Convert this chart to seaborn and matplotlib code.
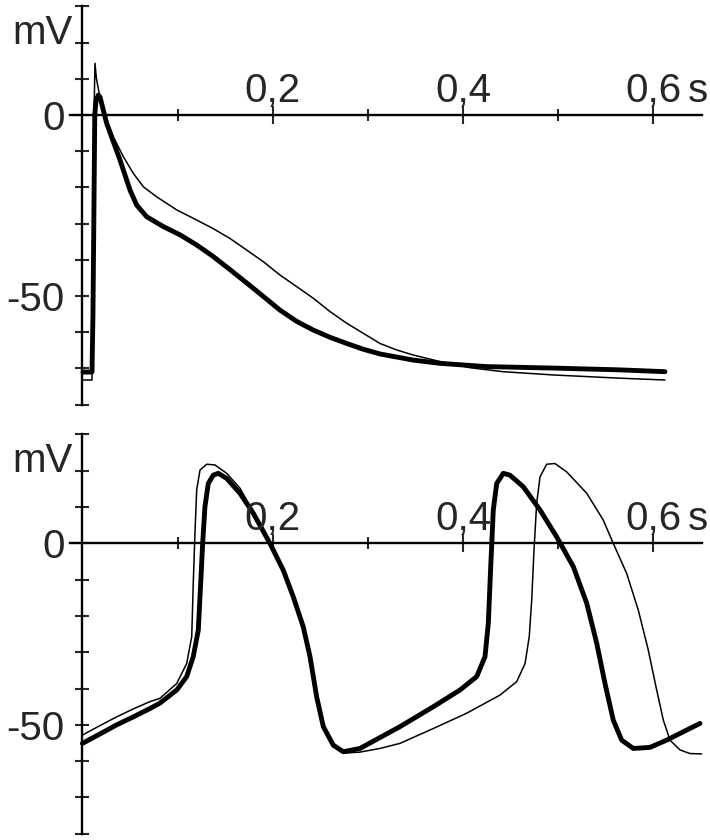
import numpy as np
import pandas as pd
import matplotlib
matplotlib.use("Agg")
import matplotlib.pyplot as plt
import seaborn as sns

# ---- data (time in s, voltage in mV) ----
# top panel, thick trace
top_thick_t = [0.0006, 0.0101, 0.0111, 0.0120, 0.0130, 0.0143, 0.0167, 0.0185, 0.0255, 0.0395,
               0.0500, 0.0571, 0.0676, 0.0850, 0.1026, 0.1201, 0.1376, 0.1551, 0.1727, 0.1901,
               0.2077, 0.2252, 0.2426, 0.2602, 0.2777, 0.2952, 0.3127, 0.3477, 0.3758, 0.4252,
               0.4945, 0.5650, 0.6122]
top_thick_v = [-71.0, -71.0, -55.0, -30.0, 0.0, 4.0, 5.5, 5.0, -2.3, -12.4,
               -20.7, -24.9, -28.1, -30.8, -33.1, -35.9, -39.1, -42.7, -46.4, -50.1,
               -53.9, -57.0, -59.4, -61.4, -63.1, -64.7, -66.0, -67.7, -68.6, -69.5,
               -69.9, -70.4, -70.9]
# top panel, thin trace
top_thin_t = [0.0006, 0.0101, 0.0111, 0.0122, 0.0132, 0.0148, 0.0203, 0.0325, 0.0430, 0.0535,
              0.0640, 0.0781, 0.0991, 0.1201, 0.1376, 0.1551, 0.1727, 0.1901, 0.2077, 0.2252,
              0.2426, 0.2602, 0.2777, 0.2952, 0.3127, 0.3303, 0.3477, 0.3758, 0.4073, 0.4420,
              0.4945, 0.5650, 0.6122]
top_thin_v = [-73.2, -73.2, -40.0, 0.0, 14.3, 10.0, 2.3, -6.0, -11.5, -16.1,
              -19.8, -22.6, -26.2, -29.0, -31.4, -34.1, -37.3, -40.5, -44.2, -47.4,
              -50.6, -54.3, -57.5, -60.3, -63.1, -64.9, -66.3, -68.1, -69.8, -70.9,
              -71.8, -72.7, -73.2]
# bottom panel, thick trace
bot_thick_t = [0.0, 0.0185, 0.0360, 0.0535, 0.0710, 0.0815, 0.0991, 0.1096, 0.1165, 0.1218,
               0.1243, 0.1264, 0.1288, 0.1323, 0.1376, 0.1428, 0.1516, 0.1656, 0.1796, 0.1971,
               0.2111, 0.2216, 0.2321, 0.2392, 0.2462, 0.2532, 0.2637, 0.2742, 0.2917, 0.3127,
               0.3337, 0.3688, 0.3968, 0.4144, 0.4231, 0.4266, 0.4291, 0.4318, 0.4354, 0.4423,
               0.4493, 0.4633, 0.4809, 0.4984, 0.5159, 0.5300, 0.5405, 0.5492, 0.5579, 0.5667,
               0.5789, 0.5965, 0.6140, 0.6315, 0.6490]
bot_thick_v = [-55.1, -52.5, -50.0, -47.8, -45.5, -44.0, -40.4, -36.7, -31.2, -23.9,
               -11.0, 0.0, 10.1, 16.5, 18.8, 19.3, 17.9, 13.8, 8.3, 0.0,
               -7.4, -14.7, -23.0, -31.2, -42.3, -50.5, -55.6, -57.4, -56.5, -53.5,
               -50.5, -45.0, -40.4, -36.7, -31.2, -22.0, -6.4, 9.2, 16.5, 19.3,
               18.8, 15.6, 9.2, 1.8, -6.4, -16.5, -27.5, -38.6, -48.7, -54.2,
               -56.5, -56.2, -54.2, -51.9, -49.6]
# bottom panel, thin trace
bot_thin_t = [0.0, 0.0185, 0.0360, 0.0535, 0.0710, 0.0815, 0.0991, 0.1096, 0.1149, 0.1165,
              0.1183, 0.1201, 0.1236, 0.1306, 0.1393, 0.1516, 0.1656, 0.1796, 0.1971, 0.2111,
              0.2216, 0.2321, 0.2392, 0.2462, 0.2532, 0.2637, 0.2742, 0.2917, 0.3127, 0.3337,
              0.3688, 0.4038, 0.4388, 0.4564, 0.4652, 0.4696, 0.4722, 0.4746, 0.4774, 0.4809,
              0.4879, 0.4966, 0.5089, 0.5300, 0.5474, 0.5579, 0.5720, 0.5842, 0.5947, 0.6035,
              0.6105, 0.6175, 0.6280, 0.6385, 0.6508]
bot_thin_v = [-52.8, -50.2, -47.8, -45.6, -43.6, -42.7, -38.6, -33.1, -25.7, -11.0,
              2.8, 14.7, 20.2, 21.8, 21.6, 19.3, 15.2, 8.6, 0.3, -7.2,
              -14.5, -22.8, -31.0, -42.0, -50.5, -56.0, -57.8, -57.5, -56.5, -55.1,
              -51.0, -46.8, -41.8, -38.1, -33.1, -25.7, -15.6, -1.8, 11.0, 18.3,
              21.8, 22.0, 19.7, 13.8, 6.4, 0.0, -8.3, -18.4, -29.4, -40.4,
              -48.7, -54.2, -56.9, -57.9, -58.0]

x_major = [0.2, 0.4, 0.6]
x_major_labels = ["0,2", "0,4", "0,6"]
x_minor = [0.1, 0.3, 0.5]
y_ticks = [-80, -70, -60, -50, -40, -30, -20, -10, 0, 10, 20, 30]
y_labels = ["", "", "", "-50", "", "", "", "", "0", "", "", ""]

sns.set_style("white")
plt.rcParams["font.family"] = ["Liberation Sans", "DejaVu Sans"]

fig = plt.figure(figsize=(7.1, 8.4), dpi=100)
ax_top = fig.add_axes([0.00883, 0.5140, 0.98507, 0.4826])
ax_bot = fig.add_axes([0.00883, 0.0031, 0.98507, 0.4840])

FS = 29


def draw_panel(ax, thin_t, thin_v, thick_t, thick_v):
    thin = pd.DataFrame({"t": thin_t, "v": thin_v})
    thick = pd.DataFrame({"t": thick_t, "v": thick_v})
    sns.lineplot(data=thin, x="t", y="v", color="black", lw=1.1, estimator=None, sort=False,
                 solid_joinstyle="round", ax=ax)
    sns.lineplot(data=thick, x="t", y="v", color="black", lw=3.5, estimator=None, sort=False,
                 solid_joinstyle="round", solid_capstyle="round", ax=ax)
    ax.set_xlim(-0.08, 0.655)
    ax.set_ylim(-81, 31)
    ax.set_xlabel("")
    ax.set_ylabel("")
    for side in ["top", "right"]:
        ax.spines[side].set_visible(False)
    ax.spines["left"].set_position(("data", 0))
    ax.spines["bottom"].set_position(("data", 0))
    ax.spines["left"].set_bounds(-80, 30)
    ax.spines["bottom"].set_bounds(-0.013, 0.651)
    for side in ["left", "bottom"]:
        ax.spines[side].set_linewidth(1.7)
        ax.spines[side].set_color("black")
    ax.set_yticks(y_ticks)
    ax.set_yticklabels(y_labels)
    ax.tick_params(axis="y", direction="inout", length=9.5, width=1.5, pad=8, labelsize=FS, left=True)
    ax.set_xticks(x_major)
    ax.set_xticks(x_minor, minor=True)
    ax.set_xticklabels([])
    ax.tick_params(axis="x", which="major", direction="inout", length=13, width=1.5, bottom=True)
    ax.tick_params(axis="x", which="minor", direction="inout", length=9, width=1.5, bottom=True)
    for xt, lab in zip(x_major, x_major_labels):
        ax.text(xt, 3.6, lab, ha="center", va="baseline", fontsize=FS)
    ax.text(0.6364, 3.6, "s", ha="left", va="baseline", fontsize=FS)
    ax.text(-0.0105, 22.6, "mV", ha="right", va="center", fontsize=FS)


draw_panel(ax_top, top_thin_t, top_thin_v, top_thick_t, top_thick_v)
draw_panel(ax_bot, bot_thin_t, bot_thin_v, bot_thick_t, bot_thick_v)

fig.savefig("out.png", dpi=100)
